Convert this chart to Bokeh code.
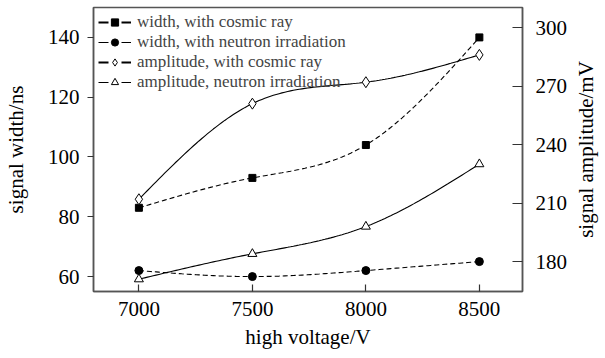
import numpy as np
from bokeh.plotting import figure
from bokeh.layouts import row
from bokeh.models import Range1d, LinearAxis, Legend, LegendItem, FixedTicker
from bokeh.embed import file_html
from bokeh.resources import INLINE

voltage = [7000, 7500, 8000, 8500]
width_cosmic = [83, 93, 104, 140]
width_neutron = [62, 60, 62, 65]
amp_cosmic = [212, 261, 272, 286]
amp_neutron = [171, 184, 198, 230]
x_ticks = [7000, 7500, 8000, 8500]
left_ticks = [60, 80, 100, 120, 140]
right_ticks = [180, 210, 240, 270, 300]

FONT = "Liberation Serif"


def spline(xs, ys, n=120):
    xs = np.asarray(xs, float)
    ys = np.asarray(ys, float)
    k = len(xs)
    h = np.diff(xs)
    A = np.zeros((k, k))
    b = np.zeros(k)
    A[0, 0] = A[-1, -1] = 1
    for i in range(1, k - 1):
        A[i, i - 1] = h[i - 1]
        A[i, i] = 2 * (h[i - 1] + h[i])
        A[i, i + 1] = h[i]
        b[i] = 3 * ((ys[i + 1] - ys[i]) / h[i] - (ys[i] - ys[i - 1]) / h[i - 1])
    c = np.linalg.solve(A, b)
    xx = np.linspace(xs[0], xs[-1], n)
    yy = np.empty_like(xx)
    for j, x in enumerate(xx):
        i = min(np.searchsorted(xs, x, side="right") - 1, k - 2)
        dx = x - xs[i]
        bi = (ys[i + 1] - ys[i]) / h[i] - h[i] * (2 * c[i] + c[i + 1]) / 3
        di = (c[i + 1] - c[i]) / (3 * h[i])
        yy[j] = ys[i] + bi * dx + c[i] * dx ** 2 + di * dx ** 3
    return xx, yy


p = figure(width=570, height=358, output_backend="svg", toolbar_location=None,
           x_range=Range1d(6800, 8690), y_range=Range1d(55, 150),
           min_border_left=92, min_border_right=46, min_border_top=7, min_border_bottom=67)
p.extra_y_ranges = {"amp": Range1d(164.7, 310.3)}
p.grid.visible = False
p.outline_line_color = "#555555"
p.outline_line_width = 1.5
p.background_fill_color = "white"
p.border_fill_color = "white"

xa = p.xaxis[0]
xa.ticker = FixedTicker(ticks=x_ticks)
xa.axis_label = "high voltage/V"
ya = p.yaxis[0]
ya.ticker = FixedTicker(ticks=left_ticks)
ya.axis_label = "signal width/ns"
ra = LinearAxis(y_range_name="amp", ticker=FixedTicker(ticks=right_ticks))
p.add_layout(ra, "right")

for ax in (xa, ya, ra):
    ax.axis_line_color = "#555555"
    ax.axis_line_width = 1.5
    ax.major_tick_line_color = "#333333"
    ax.major_tick_line_width = 1.2
    ax.minor_tick_line_color = None
    ax.major_label_text_font = FONT
    ax.major_label_text_font_size = "21px"
    ax.major_label_text_color = "black"
    ax.axis_label_text_font = FONT
    ax.axis_label_text_font_size = "21px"
    ax.axis_label_text_font_style = "normal"
    ax.axis_label_text_color = "black"

xa.major_tick_in = 7
xa.major_tick_out = 0
xa.major_label_standoff = 10
xa.axis_label_standoff = 6
ya.major_tick_in = 0
ya.major_tick_out = 6
ya.major_label_standoff = 8
ya.axis_label_standoff = 17
ra.major_tick_in = 10
ra.major_tick_out = 0
ra.major_label_standoff = 13

dash = "5 3"
xs, ys = spline(voltage, width_cosmic)
l1 = p.line(xs, ys, line_color="black", line_width=1.1, line_dash=dash)
m1 = p.scatter(voltage, width_cosmic, marker="square", size=7, fill_color="black", line_color="black")

xs, ys = spline(voltage, width_neutron)
l2 = p.line(xs, ys, line_color="black", line_width=1.1, line_dash=dash)
m2 = p.scatter(voltage, width_neutron, marker="circle", size=8, fill_color="black", line_color="black")

xs, ys = spline(voltage, amp_cosmic)
l3 = p.line(xs, ys, line_color="black", line_width=1.1, y_range_name="amp")
m3 = p.scatter(voltage, amp_cosmic, marker="diamond", size=11, fill_color="white", line_color="black",
               y_range_name="amp")

xs, ys = spline(voltage, amp_neutron)
l4 = p.line(xs, ys, line_color="black", line_width=1.1, y_range_name="amp")
m4 = p.scatter(voltage, amp_neutron, marker="triangle", size=9, fill_color="white", line_color="black",
               y_range_name="amp")

# legend proxies: line with no visible points, drawn only in the legend
nan_y = [np.nan] * len(voltage)
lg_dash = "10 13 10"
lg1 = p.line(voltage, nan_y, line_color="black", line_width=2, line_dash=lg_dash)
lg2 = p.line(voltage, nan_y, line_color="black", line_width=1.2, line_dash=lg_dash)
lg3 = p.line(voltage, nan_y, line_color="black", line_width=2, line_dash=lg_dash)
lg4 = p.line(voltage, nan_y, line_color="black", line_width=1.2, line_dash=lg_dash)

legend = Legend(items=[
    LegendItem(label="width, with cosmic ray", renderers=[lg1, m1]),
    LegendItem(label="width, with neutron irradiation", renderers=[lg2, m2]),
    LegendItem(label="amplitude, with cosmic ray", renderers=[lg3, m3]),
    LegendItem(label="amplitude, neutron irradiation", renderers=[lg4, m4]),
], location="top_left")
legend.background_fill_alpha = 0
legend.border_line_color = None
legend.label_text_font = FONT
legend.label_text_font_size = "17px"
legend.label_height = 18
legend.glyph_height = 18
legend.glyph_width = 33
legend.label_standoff = 6
legend.spacing = -3
legend.margin = 5
legend.padding = 4
p.add_layout(legend)

# narrow companion figure that only carries the right-hand title (reads bottom-to-top)
p2 = figure(width=35, height=358, output_backend="svg", toolbar_location=None,
            x_range=Range1d(0, 1), y_range=Range1d(164.7, 310.3),
            min_border_left=0, min_border_right=0, min_border_top=7, min_border_bottom=67)
p2.grid.visible = False
p2.xaxis.visible = False
p2.outline_line_color = None
p2.background_fill_color = "white"
p2.border_fill_color = "white"
a2 = p2.yaxis[0]
a2.ticker = FixedTicker(ticks=[])
a2.axis_line_color = None
a2.major_tick_line_color = None
a2.minor_tick_line_color = None
a2.major_label_text_font_size = "0px"
a2.axis_label = "signal amplitude/mV"
a2.axis_label_standoff = 0
a2.axis_label_text_font = FONT
a2.axis_label_text_font_size = "21px"
a2.axis_label_text_font_style = "normal"
a2.axis_label_text_color = "black"

layout = row(p, p2)
open("out.html", "w").write(file_html(layout, INLINE))
